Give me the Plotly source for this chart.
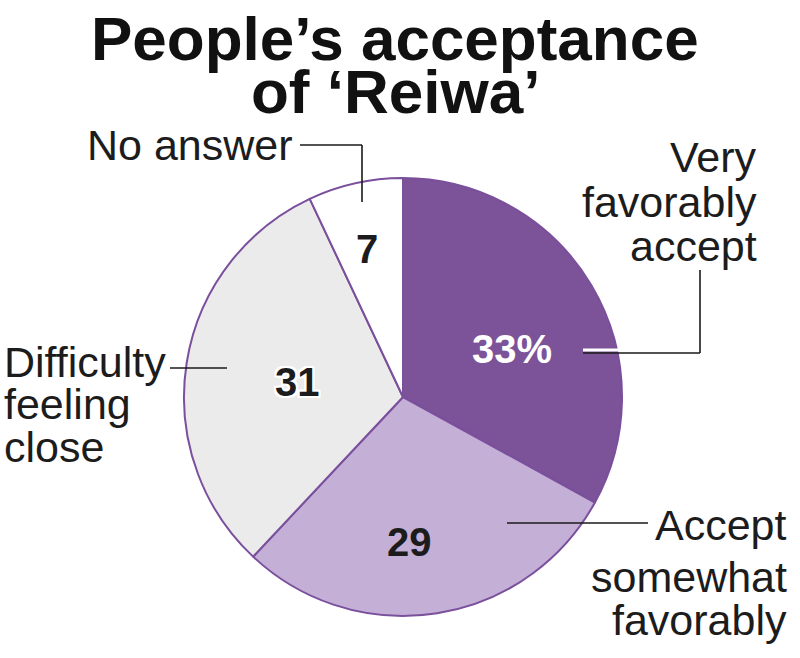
import plotly.graph_objects as go

# ---- data ----
categories = ["Very favorably accept", "Accept somewhat favorably",
              "Difficulty feeling close", "No answer"]
values = [33, 29, 31, 7]
slice_colors = ["#7c5298", "#c4afd7", "#ebebeb", "#ffffff"]
title_lines = ["People\u2019s acceptance", "of \u2018Reiwa\u2019"]

W, H = 800, 658


def px(x):
    return x / W


def py(y):
    return 1 - y / H


# pie geometry (pixels)
CX, CY, R = 403, 397, 219

fig = go.Figure()
fig.add_trace(go.Pie(
    labels=categories,
    values=values,
    sort=False,
    direction="clockwise",
    rotation=0,
    marker=dict(colors=slice_colors, line=dict(color="#7a4f9c", width=2)),
    textinfo="none",
    hoverinfo="label+value",
    showlegend=False,
    domain=dict(x=[px(CX - R), px(CX + R)], y=[py(CY + R), py(CY - R)]),
))

annotations = []
FONT = "Liberation Sans"
TXT = "#1c1c1c"

# title
for line, yc in zip(title_lines, [38, 91]):
    annotations.append(dict(x=px(395), y=py(yc), xref="paper", yref="paper",
                            text=f"<b>{line}</b>", showarrow=False,
                            xanchor="center", yanchor="middle", borderpad=0,
                            font=dict(family=FONT, size=62, color="#111111")))

# category labels, one annotation per line
label_layout = [
    # (lines, anchor x, xanchor, line centres y)
    (["Very", "favorably", "accept"], 758, "right", [157, 202, 246]),
    (["Accept", "somewhat", "favorably"], 788, "right", [525, 577, 620]),
    (["Difficulty", "feeling", "close"], 3, "left", [362, 404, 447]),
    (["No answer"], 294, "right", [145]),
]
for lines, ax, xa, ys in label_layout:
    for ln, yc in zip(lines, ys):
        annotations.append(dict(x=px(ax), y=py(yc), xref="paper", yref="paper",
                                text=ln, showarrow=False, xanchor=xa,
                                yanchor="middle", borderpad=0,
                                font=dict(family=FONT, size=43, color=TXT)))

# value labels
value_pos = [(512, 349), (409, 542), (297, 382), (367, 249)]
for i, (v, (vx, vy)) in enumerate(zip(values, value_pos)):
    txt = f"{v}%" if i == 0 else str(v)
    f = dict(family=FONT, size=40, color="#ffffff" if i == 0 else TXT)
    if i == 2:
        f["shadow"] = ("2px 0 0 #fff, -2px 0 0 #fff, 0 2px 0 #fff, 0 -2px 0 #fff, "
                       "2px 2px 0 #fff, -2px -2px 0 #fff, 2px -2px 0 #fff, -2px 2px 0 #fff")
    annotations.append(dict(x=px(vx), y=py(vy), xref="paper", yref="paper",
                            text=f"<b>{txt}</b>", showarrow=False,
                            xanchor="center", yanchor="middle", font=f))

# leader lines
shapes = []


def seg(x0, y0, x1, y1, color="#1a1a1a", width=1.6):
    shapes.append(dict(type="line", xref="paper", yref="paper",
                       x0=px(x0), y0=py(y0), x1=px(x1), y1=py(y1),
                       line=dict(color=color, width=width)))


# Very favorably accept
seg(583, 350, 626, 350, color="#ffffff", width=3)
seg(583, 353, 700, 353)
seg(700, 353, 700, 270)
# Accept somewhat favorably
seg(507, 523, 648, 523)
# Difficulty feeling close
seg(170, 368, 227, 368)
# No answer
seg(300, 145, 362, 145)
seg(362, 145, 362, 202)

fig.update_layout(
    width=W, height=H,
    margin=dict(l=0, r=0, t=0, b=0),
    paper_bgcolor="#ffffff", plot_bgcolor="#ffffff",
    annotations=annotations, shapes=shapes,
)

fig.write_html("out.html",
               config={"displayModeBar": False},
               post_script="document.body.style.margin='0';document.body.style.padding='0';")
